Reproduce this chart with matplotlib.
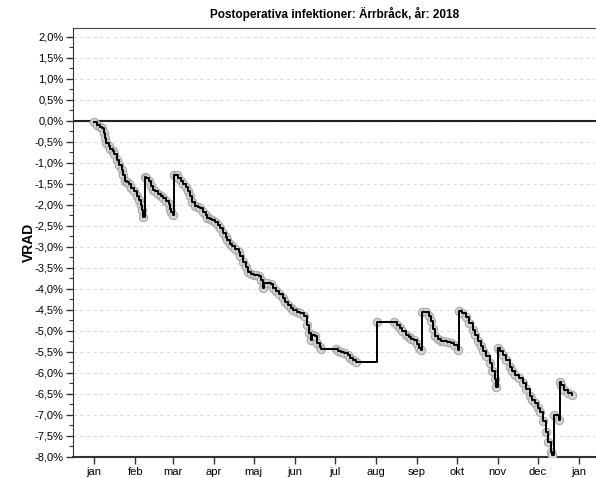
import numpy as np
import pandas as pd
import matplotlib
matplotlib.use('Agg')
import matplotlib.pyplot as plt
from matplotlib.ticker import MultipleLocator, FuncFormatter

# VRAD-kurva (datum 2018, värde i %)
datum = ['01-01', '01-03', '01-05', '01-07', '01-08', '01-09', '01-10', '01-12',
         '01-13', '01-15', '01-16', '01-18', '01-20', '01-22', '01-23', '01-24',
         '01-26', '01-27', '01-29', '01-31', '02-02', '02-04', '02-05', '02-06',
         '02-07', '02-08', '02-09', '02-11', '02-13', '02-14', '02-16', '02-18',
         '02-20', '02-22', '02-24', '02-26', '02-27', '02-28', '03-01', '03-02',
         '03-04', '03-05', '03-07', '03-09', '03-11', '03-13', '03-14', '03-16',
         '03-18', '03-20', '03-22', '03-24', '03-26', '03-27', '03-29', '03-31',
         '04-02', '04-04', '04-06', '04-08', '04-10', '04-11', '04-13', '04-15',
         '04-17', '04-20', '04-21', '04-23', '04-25', '04-27', '04-29', '05-01',
         '05-03', '05-05', '05-07', '05-08', '05-09', '05-11', '05-14', '05-16',
         '05-18', '05-20', '05-23', '05-25', '05-27', '05-29', '05-31', '06-03',
         '06-05', '06-08', '06-10', '06-12', '06-13', '06-14', '06-16', '06-18',
         '06-20', '06-21', '07-02', '07-04', '07-06', '07-08', '07-11', '07-13',
         '07-15', '07-17', '08-02', '08-15', '08-17', '08-19', '08-21', '08-24',
         '08-26', '08-28', '08-30', '09-01', '09-03', '09-04', '09-05', '09-08',
         '09-10', '09-12', '09-13', '09-15', '09-17', '09-19', '09-21', '09-24',
         '09-27', '09-29', '10-02', '10-03', '10-05', '10-08', '10-10', '10-13',
         '10-15', '10-17', '10-19', '10-21', '10-23', '10-26', '10-28', '10-30',
         '10-31', '11-01', '11-03', '11-05', '11-07', '11-10', '11-12', '11-14',
         '11-17', '11-20', '11-22', '11-25', '11-27', '11-29', '12-01', '12-03',
         '12-05', '12-07', '12-09', '12-11', '12-12', '12-13', '12-17', '12-18',
         '12-19', '12-21', '12-24', '12-27']
vrad = [-0.02, -0.10, -0.15, -0.18, -0.29, -0.40, -0.52, -0.60,
        -0.66, -0.72, -0.78, -0.93, -1.05, -1.17, -1.30, -1.44,
        -1.46, -1.50, -1.60, -1.68, -1.78, -1.88, -2.00, -2.12,
        -2.28, -1.33, -1.35, -1.42, -1.55, -1.64, -1.68, -1.74,
        -1.80, -1.84, -1.90, -1.98, -2.10, -2.18, -2.24, -1.29,
        -1.30, -1.35, -1.42, -1.50, -1.58, -1.68, -1.78, -1.92,
        -2.02, -2.05, -2.08, -2.16, -2.24, -2.31, -2.34, -2.37,
        -2.40, -2.48, -2.55, -2.66, -2.76, -2.83, -2.92, -2.99,
        -3.05, -3.11, -3.22, -3.36, -3.48, -3.59, -3.64, -3.66,
        -3.67, -3.69, -3.78, -3.98, -3.86, -3.86, -3.88, -3.98,
        -4.06, -4.12, -4.21, -4.30, -4.38, -4.45, -4.50, -4.54,
        -4.58, -4.64, -4.85, -5.05, -5.21, -5.10, -5.12, -5.29,
        -5.38, -5.43, -5.43, -5.47, -5.50, -5.52, -5.58, -5.64,
        -5.68, -5.73, -4.78, -4.78, -4.86, -4.93, -5.00, -5.10,
        -5.14, -5.18, -5.22, -5.30, -5.40, -5.45, -4.54, -4.54,
        -4.64, -4.76, -4.95, -5.13, -5.20, -5.24, -5.25, -5.26,
        -5.28, -5.34, -5.45, -4.52, -4.58, -4.66, -4.80, -4.98,
        -5.10, -5.24, -5.37, -5.48, -5.60, -5.77, -5.95, -6.15,
        -6.33, -5.41, -5.48, -5.57, -5.68, -5.85, -5.95, -6.05,
        -6.12, -6.24, -6.38, -6.56, -6.64, -6.72, -6.83, -6.92,
        -7.15, -7.40, -7.65, -7.88, -7.95, -7.00, -7.12, -6.21,
        -6.28, -6.40, -6.48, -6.52]

manader = ['jan', 'feb', 'mar', 'apr', 'maj', 'jun', 'jul', 'aug', 'sep',
           'okt', 'nov', 'dec', 'jan']

x = pd.to_datetime(['2018-' + d for d in datum])
y = np.array(vrad)

plt.rcParams['font.family'] = ['Liberation Sans', 'DejaVu Sans']

fig = plt.figure(figsize=(5.96, 4.78), dpi=100)
ax = fig.add_axes([73/596, 21/478, 523/596, 429/478])

# gråa punkter under, svart stegkurva ovanpå
ax.plot(x, y, ls='none', marker='o', ms=6, mfc='#d4d4d4', mec='#a8a8a8',
        mew=0.8, zorder=3)
ax.step(x, y, where='post', color='black', lw=1.4, zorder=4)

ax.axhline(0, color='#222222', lw=1.5, zorder=2)

ax.set_xlim(pd.Timestamp('2017-12-16'), pd.Timestamp('2019-01-14'))
ax.set_ylim(-8.0, 2.21)

ax.yaxis.set_major_locator(MultipleLocator(0.5))
ax.yaxis.set_minor_locator(MultipleLocator(0.25))
ax.yaxis.set_major_formatter(FuncFormatter(lambda v, p: ('%.1f%%' % v).replace('.', ',').replace('-0,0', '0,0')))

manads_pos = pd.date_range('2018-01-01', '2019-01-01', freq='MS')
ax.set_xticks(manads_pos)
ax.set_xticklabels(manader)

ax.grid(axis='y', which='major', color='#dcdcdc', ls=(0, (3, 3)), lw=0.8)
ax.set_axisbelow(True)

ax.tick_params(axis='both', which='major', direction='out', length=5,
               width=1, labelsize=8, color='#333333', pad=2)
ax.tick_params(axis='y', which='minor', direction='out', length=3,
               width=0.8, color='#333333')

ax.spines['right'].set_visible(False)
ax.spines['top'].set_color('#444444')
ax.spines['top'].set_linewidth(0.8)
ax.spines['left'].set_color('#333333')
ax.spines['bottom'].set_color('#333333')
ax.spines['bottom'].set_linewidth(1.5)

ax.set_ylabel('VRAD', fontsize=10, fontweight='bold')
ax.yaxis.set_label_coords(-0.07, 0.5)
ax.set_title('Postoperativa infektioner: Ärrbråck, år: 2018', fontsize=8.5,
             fontweight='bold', pad=7)

fig.savefig('out.png', dpi=100)
